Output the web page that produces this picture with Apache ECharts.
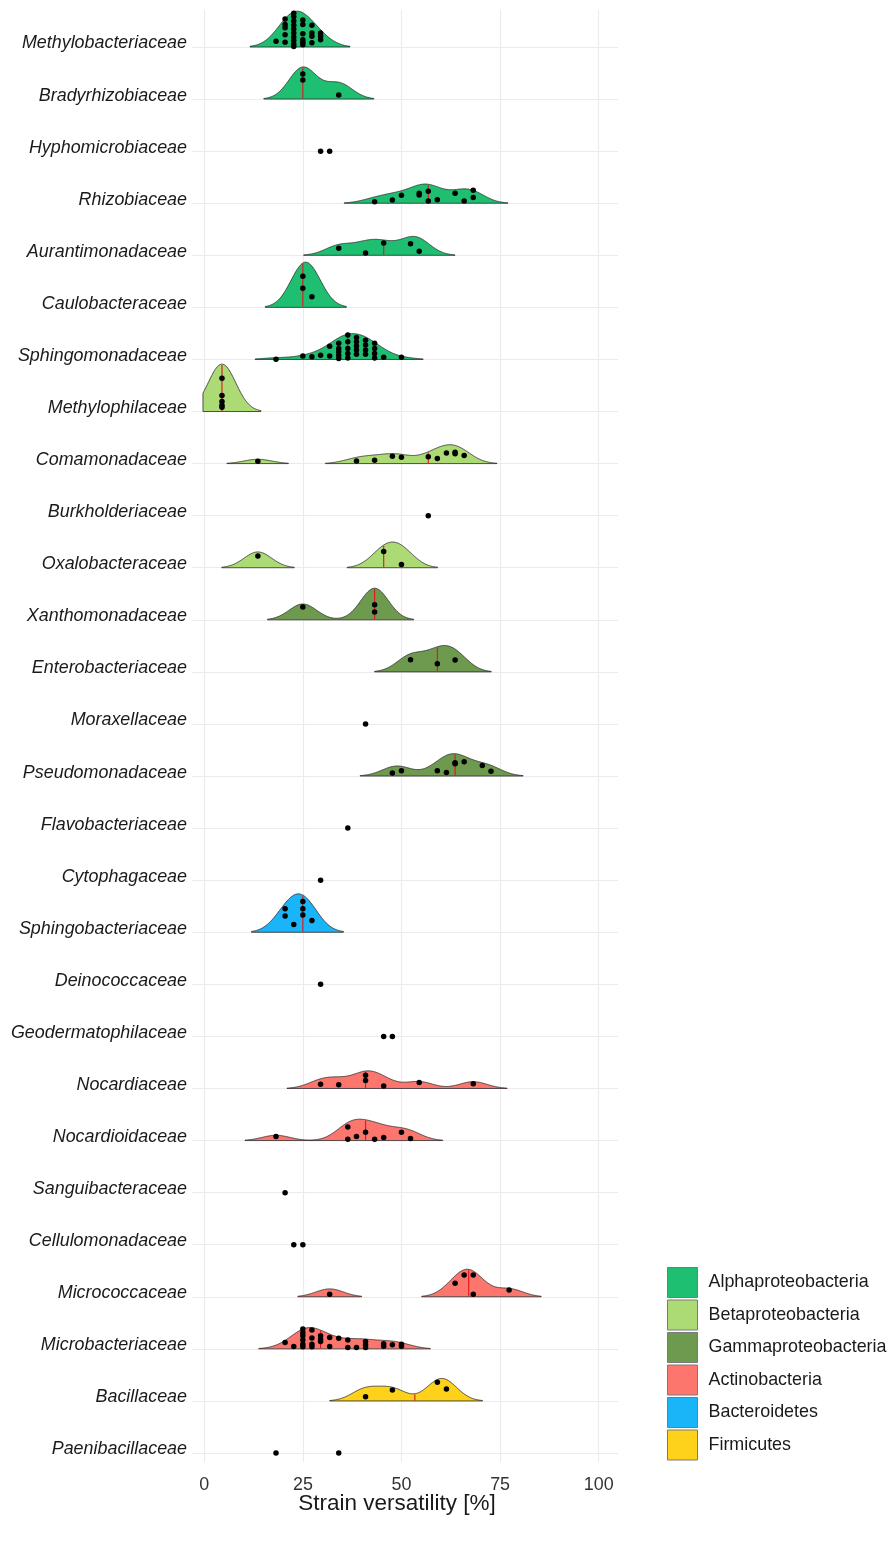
<!DOCTYPE html>
<html><head><meta charset="utf-8">
<script src="https://cdn.jsdelivr.net/npm/echarts@6/dist/echarts.min.js"></script>
<style>html,body{margin:0;padding:0;background:#fff}#c{width:891px;height:1544px}</style>
</head><body><div id="c"></div>
<script>
// ---------------- DATA ----------------
const families = ['Methylobacteriaceae','Bradyrhizobiaceae','Hyphomicrobiaceae','Rhizobiaceae','Aurantimonadaceae','Caulobacteraceae','Sphingomonadaceae','Methylophilaceae','Comamonadaceae','Burkholderiaceae','Oxalobacteraceae','Xanthomonadaceae','Enterobacteriaceae','Moraxellaceae','Pseudomonadaceae','Flavobacteriaceae','Cytophagaceae','Sphingobacteriaceae','Deinococcaceae','Geodermatophilaceae','Nocardiaceae','Nocardioidaceae','Sanguibacteraceae','Cellulomonadaceae','Micrococcaceae','Microbacteriaceae','Bacillaceae','Paenibacillaceae'];
const familyPhylum = ['Alphaproteobacteria','Alphaproteobacteria','Alphaproteobacteria','Alphaproteobacteria','Alphaproteobacteria','Alphaproteobacteria','Alphaproteobacteria','Betaproteobacteria','Betaproteobacteria','Betaproteobacteria','Betaproteobacteria','Gammaproteobacteria','Gammaproteobacteria','Gammaproteobacteria','Gammaproteobacteria','Bacteroidetes','Bacteroidetes','Bacteroidetes','Deinococcus-Thermus','Actinobacteria','Actinobacteria','Actinobacteria','Actinobacteria','Actinobacteria','Actinobacteria','Actinobacteria','Firmicutes','Firmicutes'];
const phyla = ['Alphaproteobacteria','Betaproteobacteria','Gammaproteobacteria','Actinobacteria','Bacteroidetes','Firmicutes'];
const phylumColors = ['#1fbf71','#acda74','#6e9a50','#fc766e','#1ab4f8','#fed11a'];
// strain versatility values [%] per family (one entry per strain)
const versatility = [
 [18.2,20.5,20.5,20.5,20.5,20.5,22.7,22.7,22.7,22.7,22.7,22.7,22.7,22.7,22.7,22.7,25,25,25,25,25,25,27.3,27.3,27.3,27.3,29.5,29.5,29.5],
 [25,25,34.1],
 [29.5,31.8],
 [43.2,47.7,50,54.5,54.5,56.8,56.8,59.1,63.6,65.9,68.2,68.2],
 [34.1,40.9,45.5,52.3,54.5],
 [25,25,27.3],
 [18.2,25,27.3,29.5,31.8,31.8,34.1,34.1,34.1,34.1,34.1,36.4,36.4,36.4,36.4,36.4,38.6,38.6,38.6,38.6,38.6,40.9,40.9,40.9,40.9,43.2,43.2,43.2,43.2,45.5,50],
 [4.5,4.5,4.5,4.5,4.5],
 [13.6,38.6,43.2,47.7,50,56.8,59.1,61.4,63.6,63.6,65.9],
 [56.8],
 [13.6,45.5,50],
 [25,43.2,43.2],
 [52.3,59.1,63.6],
 [40.9],
 [47.7,50,59.1,61.4,63.6,63.6,65.9,70.5,72.7],
 [36.4],
 [29.5],
 [20.5,20.5,22.7,25,25,25,27.3],
 [29.5],
 [45.5,47.7],
 [29.5,34.1,40.9,40.9,45.5,54.5,68.2],
 [18.2,36.4,36.4,38.6,40.9,43.2,45.5,50,52.3],
 [20.5],
 [22.7,25],
 [31.8,63.6,65.9,68.2,68.2,77.3],
 [20.5,22.7,25,25,25,25,25,25,27.3,27.3,27.3,27.3,29.5,29.5,29.5,31.8,31.8,34.1,36.4,36.4,38.6,40.9,40.9,40.9,45.5,45.5,47.7,50,50],
 [40.9,47.7,59.1,61.4],
 [18.2,34.1]
];
// vertical jitter of each strain point (fraction of a row above its baseline)
const jitter = [
 [0.11,0.54,0.43,0.37,0.235,0.09,0.65,0.58,0.50,0.42,0.345,0.27,0.19,0.125,0.06,0.01,0.52,0.43,0.255,0.14,0.09,0.045,0.42,0.27,0.205,0.08,0.27,0.205,0.14],
 [0.48,0.365,0.08],
 [0,0],
 [0.03,0.06,0.155,0.19,0.16,0.23,0.045,0.065,0.19,0.045,0.25,0.11],
 [0.135,0.045,0.235,0.22,0.08],
 [0.60,0.365,0.205],
 [0.005,0.065,0.05,0.08,0.255,0.065,0.31,0.21,0.15,0.08,0.02,0.47,0.34,0.21,0.115,0.03,0.42,0.34,0.26,0.18,0.10,0.37,0.275,0.18,0.10,0.31,0.21,0.115,0.03,0.04,0.04],
 [0.64,0.31,0.19,0.12,0.08],
 [0.045,0.05,0.065,0.14,0.12,0.13,0.10,0.205,0.22,0.19,0.155],
 [0],
 [0.225,0.31,0.06],
 [0.245,0.29,0.15],
 [0.235,0.155,0.23],
 [0],
 [0.06,0.10,0.10,0.07,0.255,0.235,0.275,0.20,0.09],
 [0],
 [0],
 [0.45,0.31,0.15,0.59,0.45,0.33,0.225],
 [0],
 [0,0],
 [0.08,0.07,0.255,0.155,0.05,0.115,0.09],
 [0.08,0.26,0.025,0.08,0.16,0.025,0.06,0.16,0.04],
 [0],
 [0,0],
 [0.05,0.26,0.42,0.42,0.05,0.13],
 [0.12,0.045,0.38,0.31,0.25,0.17,0.09,0.04,0.36,0.21,0.09,0.04,0.25,0.19,0.14,0.22,0.045,0.205,0.17,0.025,0.025,0.14,0.08,0.025,0.10,0.05,0.08,0.09,0.05],
 [0.08,0.21,0.36,0.23],
 [0,0]
];
const xTicks = [0,25,50,75,100];

// ---------------- density (joint-bandwidth gaussian KDE, as ggridges) ----------------
const relMinHeight = 0.018;
const densityLowerLimit = -0.5;
const maxRidgeHeight = 0.91; // in rows
function q7(s,p){const h=(s.length-1)*p,lo=Math.floor(h),hi=Math.ceil(h);return s[lo]+(h-lo)*(s[hi]-s[lo]);}
function bwNrd0(x){
  const n=x.length, m=x.reduce((a,b)=>a+b,0)/n;
  const sd=Math.sqrt(x.reduce((a,b)=>a+(b-m)*(b-m),0)/(n-1));
  const s=[...x].sort((a,b)=>a-b);
  const iqr=q7(s,0.75)-q7(s,0.25);
  let lo=Math.min(sd,iqr/1.34);
  if(!(lo>0)){lo=sd||Math.abs(x[0])||1;}
  return 0.9*lo*Math.pow(n,-0.2);
}
function median(x){const s=[...x].sort((a,b)=>a-b),n=s.length;return n%2?s[(n-1)/2]:(s[n/2-1]+s[n/2])/2;}
const bws=versatility.filter(v=>v.length>1).map(bwNrd0);
const bw=bws.reduce((a,b)=>a+b,0)/bws.length;
const all=versatility.flat();
const dFrom=Math.min(...all)-3*bw, dTo=Math.max(...all)+3*bw, nGrid=512;
const gridX=[];for(let k=0;k<nGrid;k++)gridX.push(dFrom+(dTo-dFrom)*k/(nGrid-1));
function kde(x,at){let s=0;for(const xi of x){const z=(at-xi)/bw;s+=Math.exp(-0.5*z*z);}return s/(x.length*bw*Math.sqrt(2*Math.PI));}
const dens=versatility.map(v=>v.length<3?null:gridX.map(g=>kde(v,g)));
let gMax=0;dens.forEach(d=>{if(d)gMax=Math.max(gMax,...d);});
const hScale=maxRidgeHeight/gMax;
const ridges=dens.map((d,i)=>{
  if(!d)return null;
  const mx=Math.max(...d),segs=[];let cur=null;
  for(let k=0;k<nGrid;k++){
    const ok=d[k]>=relMinHeight*mx&&gridX[k]>=densityLowerLimit;
    if(ok){if(!cur){cur=[];segs.push(cur);}cur.push([gridX[k],d[k]*hScale]);}else cur=null;
  }
  const med=median(versatility[i]);
  return {segs,med,medH:kde(versatility[i],med)*hScale};
});

// ---------------- series ----------------
const series=[];
phyla.forEach((p,pi)=>{
  const rows=[];
  families.forEach((f,i)=>{if(familyPhylum[i]===p&&ridges[i])rows.push(i);});
  series.push({
    type:'custom',name:p,xAxisIndex:0,yAxisIndex:1,
    itemStyle:{color:phylumColors[pi]},
    data:rows.map(i=>[ridges[i].med,i]),
    encode:{x:0,y:1},
    renderItem:(params,api)=>{
      const i=rows[params.dataIndex],r=ridges[i],children=[];
      r.segs.forEach(seg=>{
        const pts=seg.map(([x,h])=>api.coord([x,i-h]));
        pts.push(api.coord([seg[seg.length-1][0],i]));
        pts.push(api.coord([seg[0][0],i]));
        children.push({type:'polygon',shape:{points:pts},style:{fill:phylumColors[pi],stroke:'#2b2b2b',lineWidth:0.8}});
      });
      const a=api.coord([r.med,i]),b=api.coord([r.med,i-r.medH]);
      children.push({type:'line',shape:{x1:a[0],y1:a[1]-0.5,x2:b[0],y2:b[1]+0.8},style:{stroke:'#e3131b',lineWidth:1.1}});
      return {type:'group',children};
    }
  });
});
const pts=[];
versatility.forEach((v,i)=>v.forEach((x,k)=>pts.push([x,i-jitter[i][k]])));
series.push({type:'scatter',xAxisIndex:0,yAxisIndex:1,data:pts,symbolSize:5.5,clip:false,z:5,silent:true,
  itemStyle:{color:'#000000',opacity:1,borderWidth:0}});

const font='"Liberation Sans", Arial, sans-serif';
const chart=echarts.init(document.getElementById('c'),null,{renderer:'canvas'});
chart.setOption({
  animation:false,
  backgroundColor:'#ffffff',
  title:{text:'Strain versatility [%]',left:397,top:1492,textAlign:'center',padding:0,
    textStyle:{fontFamily:font,fontSize:22.5,fontWeight:'normal',color:'#1a1a1a'}},
  legend:{data:phyla,orient:'vertical',left:667,top:1267,padding:0,itemWidth:30,itemHeight:30,itemGap:1.5,
    icon:'rect',selectedMode:false,
    itemStyle:{borderColor:'#7a7a7a',borderWidth:1},
    textStyle:{fontFamily:font,fontSize:17.9,color:'#1a1a1a',padding:[0,0,0,6]}},
  grid:[
    {left:192,top:47,width:426,height:1406,outerBoundsMode:'none',containLabel:false},
    {left:204.3,top:10,width:394.4,height:1452,outerBoundsMode:'none',containLabel:false}
  ],
  xAxis:[
    {type:'value',gridIndex:0,min:-3.1,max:104.9,show:false},
    {type:'value',gridIndex:1,min:0,max:100,interval:25,
      axisLine:{show:false},axisTick:{show:false},
      splitLine:{show:true,lineStyle:{color:'#ebebeb',width:1.1}},
      axisLabel:{fontFamily:font,fontSize:17.9,color:'#333333',margin:14,
        formatter:v=>xTicks.includes(v)?String(v):''}}
  ],
  yAxis:[
    {type:'category',gridIndex:0,data:families,inverse:true,boundaryGap:false,position:'left',
      axisLine:{show:false},axisTick:{show:false},
      splitLine:{show:true,interval:0,lineStyle:{color:'#ebebeb',width:1.1}},
      axisLabel:{interval:0,fontFamily:font,fontSize:17.9,fontStyle:'italic',color:'#1a1a1a',margin:5,
        verticalAlign:'bottom',lineHeight:7}},
    {type:'value',gridIndex:0,min:0,max:27,inverse:true,position:'right',show:false},
    {type:'value',gridIndex:1,min:0,max:1,show:false}
  ],
  series
});
</script></body></html>
